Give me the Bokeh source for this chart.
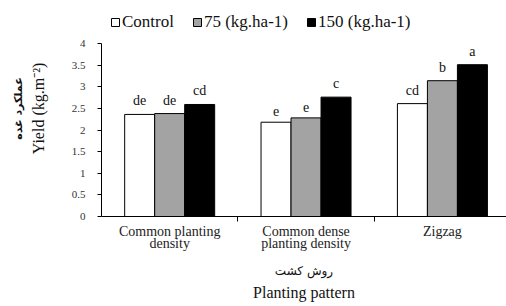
from bokeh.plotting import figure
from bokeh.models import (Range1d, FixedTicker, Legend, LegendItem, Title, ColumnDataSource)
from bokeh.core.properties import value
from bokeh.embed import file_html
from bokeh.resources import INLINE

categories = ["Common planting\ndensity", "Common dense\nplanting density", "Zigzag"]
series_names = ["Control", "75 (kg.ha-1)", "150 (kg.ha-1)"]
control = [2.36, 2.18, 2.61]
n75 = [2.38, 2.28, 3.14]
n150 = [2.59, 2.76, 3.51]
letters_control = ["de", "e", "cd"]
letters_75 = ["de", "e", "b"]
letters_150 = ["cd", "c", "a"]
y_ticks = [0, 0.5, 1, 1.5, 2, 2.5, 3, 3.5, 4]
y_tick_labels = ["0", "0.5", "1", "1.5", "2", "2.5", "3", "3.5", "4"]

FONT = "Liberation Serif"
colors = ["white", "#a3a3a3", "black"]
offsets = [-0.22, 0.0, 0.22]
bar_w = 0.22

# frame reaches the top of the canvas so the legend (drawn inside the frame) is not clipped;
# the axis itself stops at 4 through its bounds
y_top = 4 + 43 / 43.25

p = figure(width=506, height=306, output_backend="svg", toolbar_location=None,
           x_range=Range1d(0, 2.97), y_range=Range1d(0, y_top),
           min_border_left=101, min_border_right=0, min_border_top=0, min_border_bottom=90)
p.outline_line_color = None
p.xgrid.visible = False
p.ygrid.visible = False
p.background_fill_color = "white"

centers = [i + 0.5 for i in range(len(categories))]
renderers = []
for vals, lets, col, off in zip([control, n75, n150],
                                [letters_control, letters_75, letters_150], colors, offsets):
    src = ColumnDataSource(dict(x=[c + off for c in centers], top=vals, lab=lets))
    r = p.vbar(x="x", top="top", width=bar_w, source=src, fill_color=col,
               line_color="black", line_width=1)
    renderers.append(r)
    p.text(x="x", y="top", text="lab", source=src, text_align="center",
           text_baseline="bottom", y_offset=-6, text_font=value(FONT),
           text_font_size="14px", text_color="#111111")

# Y axis
yax = p.yaxis[0]
yax.ticker = FixedTicker(ticks=y_ticks)
yax.bounds = (y_ticks[0], y_ticks[-1])
yax.major_label_overrides = {t: l for t, l in zip(y_ticks, y_tick_labels)}
yax.major_tick_out = 4
yax.major_tick_in = 0
yax.minor_tick_out = 0
yax.minor_tick_in = 0
yax.axis_line_color = "black"
yax.major_tick_line_color = "black"
yax.major_label_text_font = FONT
yax.major_label_text_font_size = "11px"
yax.major_label_text_color = "#333333"
yax.major_label_standoff = 12
yax.axis_label = "Yield (kg.m\u207b\u00b2)"
yax.axis_label_text_font = FONT
yax.axis_label_text_font_size = "16px"
yax.axis_label_text_font_style = "normal"
yax.axis_label_text_color = "#111111"
yax.axis_label_standoff = 22

# X axis
xax = p.xaxis[0]
xax.ticker = FixedTicker(ticks=centers, minor_ticks=[1, 2, 3])
xax.major_label_overrides = {c: l for c, l in zip(centers, categories)}
xax.major_tick_out = 0
xax.major_tick_in = 0
xax.minor_tick_out = 5
xax.minor_tick_in = 0
xax.minor_tick_line_color = "black"
xax.axis_line_color = "black"
xax.major_label_text_font = FONT
xax.major_label_text_font_size = "14px"
xax.major_label_text_line_height = 0.8
xax.major_label_text_color = "#222222"
xax.major_label_standoff = 2
xax.axis_label = "روش کشت"
xax.axis_label_text_font = "DejaVu Sans"
xax.axis_label_text_font_size = "12px"
xax.axis_label_text_font_style = "normal"
xax.axis_label_text_color = "#111111"
xax.axis_label_standoff = 10

p.add_layout(Title(text="Planting pattern", align="center", text_font=FONT,
                   text_font_size="16px", text_font_style="normal",
                   text_color="#111111", standoff=2), "below")
p.add_layout(Title(text="عملکرد غده", align="center", text_font="DejaVu Sans",
                   text_font_size="11px", text_font_style="bold",
                   text_color="#111111", standoff=4), "left")

legend = Legend(items=[LegendItem(label=n, renderers=[r]) for n, r in zip(series_names, renderers)],
                orientation="horizontal", location=(9, 184), padding=0, margin=0,
                spacing=18, glyph_width=10, glyph_height=10, label_standoff=2,
                label_text_font=FONT, label_text_font_size="17px",
                label_text_color="#111111", border_line_color=None,
                background_fill_alpha=0)
p.add_layout(legend, "center")

open("out.html", "w").write(file_html(p, INLINE))
